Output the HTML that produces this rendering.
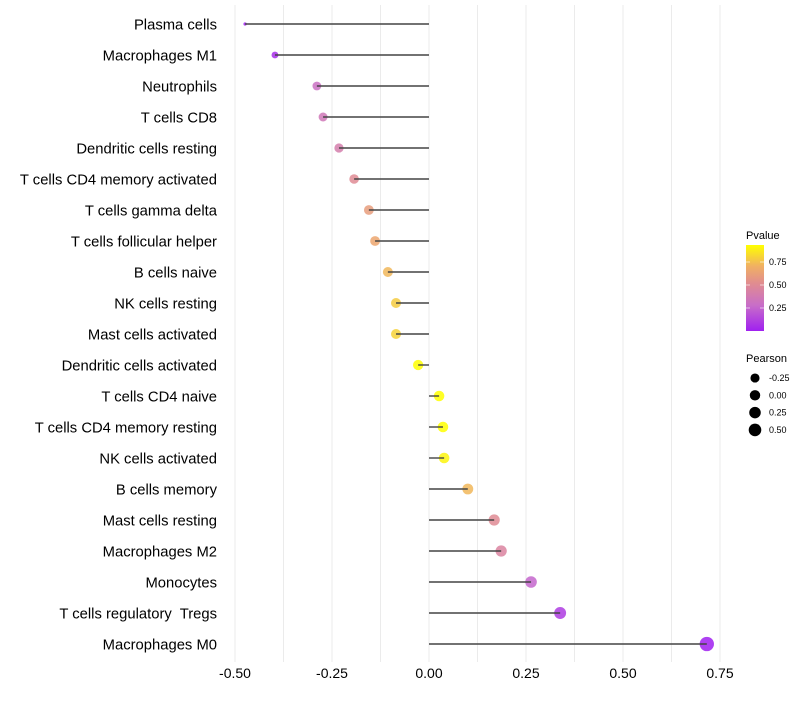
<!DOCTYPE html>
<html><head><meta charset="utf-8"><style>
body{margin:0;background:#fff;font-family:"Liberation Sans",sans-serif;}
svg text{font-family:"Liberation Sans",sans-serif;white-space:pre;}
</style></head><body>
<svg id="chart" width="800" height="700"></svg>
<script>
const categories=["Plasma cells","Macrophages M1","Neutrophils","T cells CD8","Dendritic cells resting","T cells CD4 memory activated","T cells gamma delta","T cells follicular helper","B cells naive","NK cells resting","Mast cells activated","Dendritic cells activated","T cells CD4 naive","T cells CD4 memory resting","NK cells activated","B cells memory","Mast cells resting","Macrophages M2","Monocytes","T cells regulatory  Tregs","Macrophages M0"];
const pearson=[-0.474,-0.397,-0.289,-0.273,-0.232,-0.193,-0.155,-0.139,-0.106,-0.085,-0.085,-0.028,0.026,0.036,0.039,0.10,0.168,0.186,0.263,0.338,0.716];
const pvalue=[0.0,0.05,0.3,0.35,0.4,0.5,0.6,0.65,0.72,0.78,0.8,0.93,0.93,0.93,0.9,0.72,0.5,0.45,0.25,0.1,0.0];
const xTicks=[-0.5,-0.25,0,0.25,0.5,0.75];
const xTickLabels=["-0.50","-0.25","0.00","0.25","0.50","0.75"];
const pTicks=[0.25,0.5,0.75];
const sizeTicks=[-0.25,0,0.25,0.5];

const NS="http://www.w3.org/2000/svg";
const svg=document.getElementById('chart');
function mk(t,a,p){const e=document.createElementNS(NS,t);for(const k in a)e.setAttribute(k,a[k]);(p||svg).appendChild(e);return e;}
const x=v=>429+v*388;
const y=i=>24+i*31;
const knots=[[-0.48,1.5],[-0.4,3.4],[-0.29,4.4],[-0.19,4.8],[0.5,6.3],[0.75,7.3]];
function rad(v){for(let i=1;i<knots.length;i++){if(v<=knots[i][0]){const [a,ra]=knots[i-1],[b,rb]=knots[i];return ra+(rb-ra)*Math.max(0,(v-a)/(b-a));}}return 7.3;}
function lerp(a,b,t){return a.map((c,i)=>Math.round(c+(b[i]-c)*t));}
const cStops=[[0,[160,32,240]],[0.3,[200,110,200]],[0.55,[224,140,145]],[0.75,[240,175,100]],[1,[255,255,0]]];
function col(p){const t=Math.min(1,Math.max(0,p/0.93));
 for(let i=1;i<cStops.length;i++){if(t<=cStops[i][0]){const [a,ca]=cStops[i-1],[b,cb]=cStops[i];return `rgb(${lerp(ca,cb,(t-a)/(b-a))})`;}}
 return 'rgb(255,255,0)';}

for(let v=-0.5;v<=0.751;v+=0.125){
 const g=mk('line',{x1:x(v),x2:x(v),y1:5,y2:662,stroke:'#ebebeb','stroke-width':1});
 
 
}
xTicks.forEach((v,i)=>{
 const t=mk('text',{x:x(v),y:678,'text-anchor':'middle','font-size':14,fill:'#000'});
 t.textContent=xTickLabels[i];
 
 
});
categories.forEach((c,i)=>{
 const t=mk('text',{x:217,y:y(i)+5.5,'text-anchor':'end','font-size':14.8,fill:'#000'});
 t.textContent=c;
 
 
 const d=mk('circle',{cx:x(pearson[i]),cy:y(i),r:rad(pearson[i]),fill:col(pvalue[i]),'fill-opacity':0.85});
 
 
 const l=mk('line',{x1:x(0),x2:x(pearson[i]),y1:y(i),y2:y(i),stroke:'#444','stroke-width':1.4});
 
 
});
const defs=mk('defs',{});
const lg=mk('linearGradient',{id:'pg',x1:0,y1:1,x2:0,y2:0},defs);
cStops.forEach(([o,c])=>mk('stop',{offset:o,'stop-color':`rgb(${c})`},lg));
const lt=mk('text',{x:746,y:239,'font-size':11}); lt.textContent='Pvalue';


const gb=mk('rect',{x:746,y:245,width:18,height:86,fill:'url(#pg)'});


pTicks.forEach(p=>{const yy=331-p*92;
 mk('line',{x1:746,x2:750,y1:yy,y2:yy,stroke:'#fff','stroke-opacity':0.6});
 mk('line',{x1:760,x2:764,y1:yy,y2:yy,stroke:'#fff','stroke-opacity':0.6});
 const t=mk('text',{x:769,y:yy+3,'font-size':9});t.textContent=p.toFixed(2);
 
 
});
const st=mk('text',{x:746,y:362,'font-size':11}); st.textContent='Pearson';


sizeTicks.forEach((v,i)=>{const yy=378+i*17.3;
 const c=mk('circle',{cx:755,cy:yy,r:rad(v),fill:'#000'});
 
 
 const t=mk('text',{x:769,y:yy+3,'font-size':9});t.textContent=v.toFixed(2);
 
 
});
</script>
</body></html>
